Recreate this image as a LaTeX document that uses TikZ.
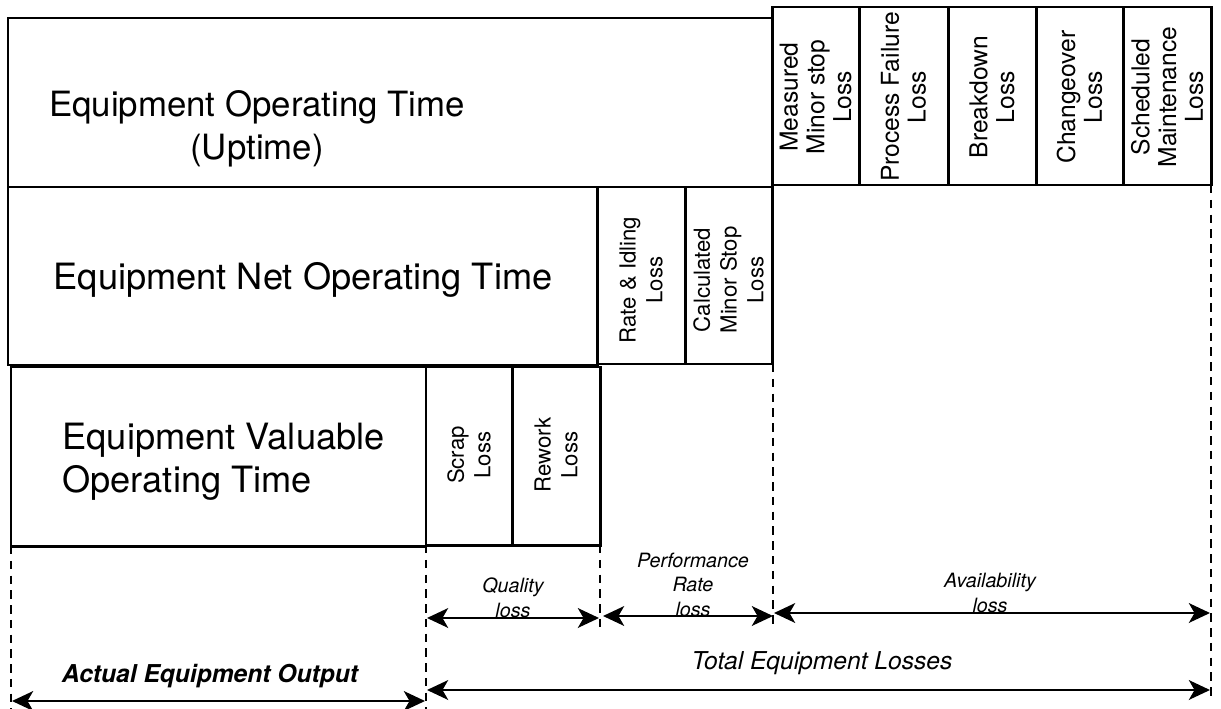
\documentclass[tikz,border=0pt]{standalone}
\usepackage{fontspec}
\setmainfont{TeX Gyre Heros}
\usetikzlibrary{arrows.meta}

\begin{document}
\begin{tikzpicture}[x=0.01cm,y=-0.01cm,
    frame/.style={line width=0.85pt},
    guide/.style={line width=0.55pt,dash pattern=on 2.4pt off 1.8pt},
    span/.style={line width=0.7pt,
      {Stealth[length=6pt,width=5.6pt,inset=1.6pt]}-{Stealth[length=6pt,width=5.6pt,inset=1.6pt]}},
    bigtext/.style={font=\fontsize{10.3}{12.1}\selectfont,align=center},
    vtext/.style={rotate=90,align=center,font=\fontsize{7}{7.6}\selectfont},
    vsmall/.style={rotate=90,align=center,font=\fontsize{6.3}{7.6}\selectfont},
    losstext/.style={align=center,font=\fontsize{5.6}{6.9}\selectfont\itshape,inner sep=0.5pt},
    sumtext/.style={font=\fontsize{7}{8}\selectfont\itshape}]
  \path[use as bounding box] (0,0) rectangle (1221,709);

  % Main blocks, one per row.
  \draw[frame] (8,18) rectangle (772,187);
  \draw[frame] (8,187) rectangle (597,365);
  \draw[frame] (11,367) rectangle (426,546);
  \node[bigtext,font=\fontsize{9.9}{12.1}\selectfont] (uptime) at (257,129) {Equipment Operating Time\\(Uptime)};
  \node[bigtext] (netop) at (303,280) {Equipment Net Operating Time};
  \node[bigtext,align=left,anchor=west] (valop) at (50,462) {Equipment Valuable\\Operating Time};

  % Availability losses.
  \foreach \xa/\xb/\nm/\txt in {772/859/minor/{Measured\\Minor stop\\Loss},
      859/948/failure/{Process Failure\\Loss},
      948/1036/breakdown/{Breakdown\\Loss},
      1036/1123/changeover/{Changeover\\Loss},
      1123/1211/maint/{Scheduled\\Maintenance\\Loss}}{
    \draw[frame] (\xa,7) rectangle (\xb,185);
    \node[vtext] (\nm) at ({(\xa+\xb)/2},97) {\txt};
  }

  % Performance losses.
  \foreach \xa/\xb/\nm/\txt in {597/685/idling/{Rate \& Idling\\Loss},
      685/772/calcstop/{Calculated\\Minor Stop\\Loss}}{
    \draw[frame] (\xa,187) rectangle (\xb,364);
    \node[vsmall] (\nm) at ({(\xa+\xb)/2},280) {\txt};
  }

  % Quality losses.
  \foreach \xa/\xb/\nm/\txt in {426/512/scrap/{Scrap\\Loss},
      512/600/rework/{Rework\\Loss}}{
    \draw[frame] (\xa,367) rectangle (\xb,545);
    \node[vsmall] (\nm) at ({(\xa+\xb)/2},455) {\txt};
  }

  % Dashed guides.
  \draw[guide] (11,546) -- (11,709);
  \draw[guide] (426,545) -- (426,709);
  \draw[guide] (600,545) -- (600,630);
  \draw[guide] (773,364) -- (773,626);
  \draw[guide] (1211,185) -- (1211,698);

  \coordinate (qa) at (427,618);
  \coordinate (qb) at (599,618);
  \coordinate (pa) at (603,616);
  \coordinate (pb) at (773,616);
  \coordinate (aa) at (774,613);
  \coordinate (ab) at (1210,613);
  \coordinate (oa) at (12,701);
  \coordinate (ob) at (425,701);
  \coordinate (ta) at (427,690);
  \coordinate (tb) at (1210,690);

  \draw[span] (qa) -- (qb);
  \draw[span] (pa) -- (pb);
  \draw[span] (aa) -- (ab);
  \draw[span] (oa) -- (ob);
  \draw[span] (ta) -- (tb);

  \node[losstext,anchor=south] (quality) at (513,620) {Quality\\loss};
  \node[losstext,anchor=south] (perf) at (693,619) {Performance\\Rate\\loss};
  \node[losstext,anchor=south] (avail) at (990,615) {Availability\\loss};
  \node[sumtext,font=\fontsize{7}{8}\selectfont\bfseries\itshape] (output) at (210,676) {Actual Equipment Output};
  \node[sumtext] (total) at (822,663) {Total Equipment Losses};
\end{tikzpicture}
\end{document}
